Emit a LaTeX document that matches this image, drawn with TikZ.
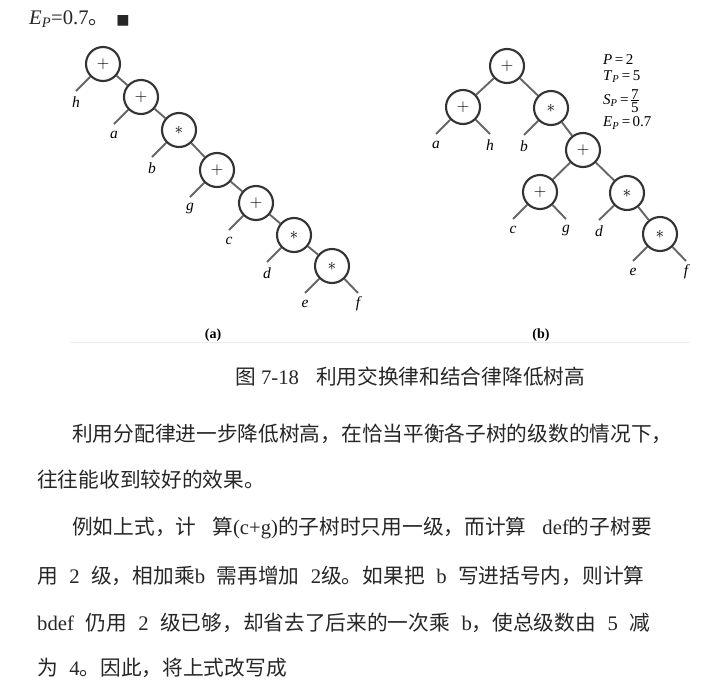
\documentclass[tikz,border=0pt]{standalone}
\usepackage{fontspec}
\setmainfont{Liberation Serif}
\newfontfamily\cjk{Noto Sans CJK SC}
\newfontfamily\symfont{DejaVu Sans}
\newcommand{\zh}[1]{{\cjk #1}}
\newcommand{\gap}{\hspace{11.5pt}}
\newcommand{\stackfrac}[2]{$\vcenter{\halign{\hfil##\hfil\cr #1\cr
  \noalign{\kern1pt\hrule height0.7pt\kern1.5pt}#2\cr}}$}
\tikzset{
  opnode/.style={circle, draw=black!80, line width=2.1pt, minimum size=34pt,
    inner sep=0pt, font=\fontsize{17}{17}\selectfont},
  branch/.style={draw=black!60, line width=1.9pt},
  leaflabel/.style={font=\fontsize{15.5}{15.5}\selectfont\itshape},
  note/.style={anchor=west, inner sep=0pt, font=\fontsize{15}{15}\selectfont},
  subcap/.style={font=\fontsize{14}{14}\selectfont\bfseries},
  bodyline/.style={anchor=west, inner sep=0pt, text=black!85,
    font=\fontsize{20.7}{20.7}\selectfont}
}
\begin{document}
\begin{tikzpicture}[x=1pt, y=-1pt]
\useasboundingbox (0,0) rectangle (725,696);
% end of the previous example
\node[bodyline] (prev) at (29,19) {\textit{E}\textsubscript{\textit{P}}=0.7\zh{。}\hspace{7pt}{\symfont\fontsize{14}{14}\selectfont ■}};
% tree (a)
\foreach \n/\x/\y/\s in {a1/103/64/+, a2/141/97/+, a3/179/130/*, a4/217/170/+,
    a5/256/203/+, a6/294/235/*, a7/332/266/*}
  \node[opnode] (\n) at (\x, \y) {$\s$};
\foreach \p/\c in {a1/a2, a2/a3, a3/a4, a4/a5, a5/a6, a6/a7}
  \draw[branch] (\p) -- (\c);
\foreach \n/\l/\dx in {a1/h/-27, a2/a/-27, a3/b/-27, a4/g/-27, a5/c/-27,
    a6/d/-27, a7/e/-27, a7/f/26}
  {\coordinate (\n\l) at ([shift={(\dx, 27)}]\n.center);
   \node[leaflabel] (lab-\n\l) at ([shift={(\dx, 38)}]\n.center) {\l};
   \draw[branch] (\n) -- (\n\l);};
% tree (b)
\foreach \n/\x/\y/\s in {b1/507/66/+, b2/463/107/+, b3/551/108/*, b4/583/150/+,
    b5/540/192/+, b6/627/193/*, b7/660/234/*}
  \node[opnode] (\n) at (\x, \y) {$\s$};
\foreach \p/\c in {b1/b2, b1/b3, b3/b4, b4/b5, b4/b6, b6/b7}
  \draw[branch] (\p) -- (\c);
\foreach \n/\l/\dx in {b2/a/-27, b2/h/27, b3/b/-27, b5/c/-27, b5/g/26,
    b6/d/-28, b7/e/-27, b7/f/26}
  {\coordinate (\n\l) at ([shift={(\dx, 27)}]\n.center);
   \node[leaflabel] (lab-\n\l) at ([shift={(\dx, 38)}]\n.center) {\l};
   \draw[branch] (\n) -- (\n\l);};
% values for (b)
\node[note] (np) at (603,60) {\textit{P}\,=\,2};
\node[note] (nt) at (603,77) {\textit{T}\textsubscript{\textit{P}}\,=\,5};
\node[note] (ns) at (603,101) {\textit{S}\textsubscript{\textit{P}}\,=\,\stackfrac{7}{5}};
\node[note] (ne) at (603,123) {\textit{E}\textsubscript{\textit{P}}\,=\,0.7};
% sub captions and rule
\node[subcap] (suba) at (213,335) {(a)};
\node[subcap] (subb) at (541,335) {(b)};
\coordinate (rulel) at (70,342);
\coordinate (ruler) at (690,342);
\draw[black!8, line width=0.8pt] (rulel) -- (ruler);
% caption
\node[bodyline] (cap) at (235,377) {\zh{图} 7-18\hspace{17pt}\zh{利用交换律和结合律降低树高}};
% text below
\node[bodyline] (l1) at (72,434) {\zh{利用分配律进一步降低树高，在恰当平衡各子树的级数的情况下，}};
\node[bodyline] (l2) at (37,480) {\zh{往往能收到较好的效果。}};
\node[bodyline] (l3) at (72,528) {\zh{例如上式，计}\hspace{16pt}\zh{算}(c+g)\zh{的子树时只用一级，而计算}\hspace{16pt}def\zh{的子树要}};
\node[bodyline] (l4) at (37,576) {\zh{用}\gap 2\gap\zh{级，相加乘}b\gap\zh{需再增加}\gap 2\zh{级。如果把}\gap b\gap\zh{写进括号内，则计算}};
\node[bodyline] (l5) at (37,623) {bdef\gap\zh{仍用}\gap 2\gap\zh{级已够，却省去了后来的一次乘}\gap b\zh{，使总级数由}\gap 5\gap\zh{减}};
\node[bodyline] (l6) at (37,668) {\zh{为}\gap 4\zh{。因此，将上式改写成}};
\end{tikzpicture}
\end{document}
